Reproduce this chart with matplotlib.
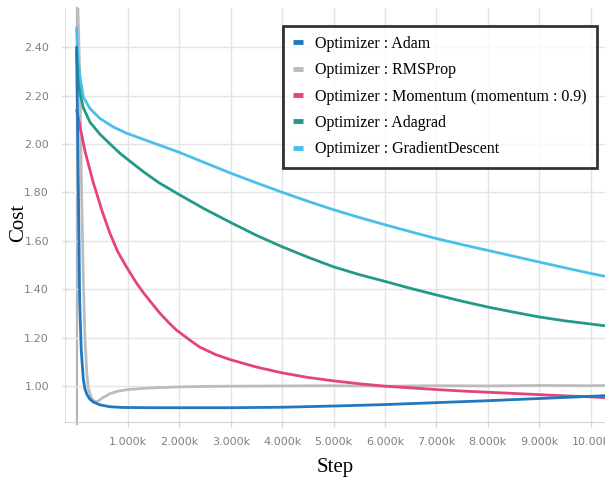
import matplotlib
matplotlib.use("Agg")
import matplotlib.pyplot as plt
from matplotlib.ticker import FixedLocator

# cost per training step for each optimizer
adam_steps = [0, 30, 60, 90, 130, 160, 200, 260, 330, 450, 650, 900, 1500, 2000, 3000, 4000,
              5000, 6000, 7000, 8000, 9000, 10000, 10300]
adam_cost = [2.40, 1.90, 1.35, 1.15, 1.03, 0.99, 0.965, 0.945, 0.933, 0.922, 0.914, 0.911, 0.910,
             0.910, 0.910, 0.912, 0.917, 0.923, 0.931, 0.939, 0.948, 0.957, 0.960]

rms_steps = [0, 60, 100, 130, 163, 200, 228, 280, 330, 400, 500, 650, 800, 1000, 1300, 1600,
             2000, 2500, 3000, 4000, 5000, 6000, 7000, 8000, 9000, 10000, 10300]
rms_cost = [2.75, 2.30, 1.77, 1.45, 1.19, 1.05, 0.99, 0.955, 0.938, 0.935, 0.950, 0.968, 0.978,
            0.985, 0.990, 0.993, 0.996, 0.998, 0.999, 1.000, 1.001, 0.999, 1.001, 1.000, 1.002,
            1.001, 1.002]

mom_steps = [0, 50, 163, 325, 500, 650, 800, 975, 1150, 1300, 1450, 1622, 1800, 1947, 2200,
             2400, 2700, 3000, 3500, 4000, 4500, 5000, 5500, 6000, 6500, 7000, 7500, 8000,
             8500, 9000, 9500, 10000, 10300]
mom_cost = [2.14, 2.09, 1.97, 1.84, 1.72, 1.63, 1.555, 1.49, 1.43, 1.385, 1.345, 1.30, 1.26,
            1.23, 1.19, 1.16, 1.13, 1.108, 1.078, 1.054, 1.035, 1.021, 1.009, 0.999, 0.992,
            0.985, 0.979, 0.974, 0.969, 0.964, 0.959, 0.955, 0.951]

ada_steps = [0, 30, 66, 130, 260, 455, 650, 850, 1000, 1300, 1600, 2000, 2500, 3000, 3500,
             4000, 4500, 5000, 5500, 6000, 6500, 7000, 7500, 8000, 8500, 9000, 9500, 10000,
             10300]
ada_cost = [2.38, 2.26, 2.21, 2.15, 2.09, 2.04, 2.00, 1.96, 1.935, 1.885, 1.84, 1.79, 1.73,
            1.675, 1.622, 1.575, 1.532, 1.492, 1.46, 1.432, 1.403, 1.376, 1.35, 1.326, 1.305,
            1.285, 1.269, 1.256, 1.248]

gd_steps = [0, 20, 66, 130, 260, 455, 714, 975, 1364, 1753, 2000, 2500, 3000, 3500, 4000,
            4500, 5000, 5500, 6000, 6500, 7000, 7500, 8000, 8500, 9000, 9500, 10000, 10300]
gd_cost = [2.48, 2.36, 2.277, 2.194, 2.146, 2.105, 2.07, 2.044, 2.014, 1.984, 1.965, 1.922,
           1.879, 1.839, 1.80, 1.763, 1.728, 1.696, 1.666, 1.637, 1.609, 1.584, 1.56, 1.536,
           1.512, 1.488, 1.465, 1.452]

labels = ["Optimizer : Adam", "Optimizer : RMSProp", "Optimizer : Momentum (momentum : 0.9)",
          "Optimizer : Adagrad", "Optimizer : GradientDescent"]
colors = ["#1f78c0", "#bcbcbc", "#e4437c", "#23998a", "#4bbfea"]

x_ticks = [1000, 2000, 3000, 4000, 5000, 6000, 7000, 8000, 9000, 10000]
x_labels = ["1.000k", "2.000k", "3.000k", "4.000k", "5.000k", "6.000k", "7.000k", "8.000k",
            "9.000k", "10.00k"]
y_ticks = [1.00, 1.20, 1.40, 1.60, 1.80, 2.00, 2.20, 2.40]

serif = ["Liberation Serif", "DejaVu Serif"]

fig = plt.figure(figsize=(6.05, 4.79), dpi=100)
ax = fig.add_axes([0.1074, 0.119, 0.8926, 0.864])

# zero line at the first step
ax.axvline(0, color="#b5b5b5", lw=1.6, zorder=1, clip_on=False, ymin=-0.006)

series = [(adam_steps, adam_cost), (rms_steps, rms_cost), (mom_steps, mom_cost),
          (ada_steps, ada_cost), (gd_steps, gd_cost)]
# gray first so the others sit on top, Adam last
order = [1, 4, 3, 2, 0]
lines = {}
for i in order:
    s, c = series[i]
    ln, = ax.plot(s, c, color=colors[i], lw=2.0, label=labels[i], zorder=3,
                  solid_capstyle="round", solid_joinstyle="round")
    lines[i] = ln

ax.set_xlim(-226, 10280)
ax.set_ylim(0.851, 2.561)
ax.xaxis.set_major_locator(FixedLocator(x_ticks))
ax.set_xticklabels(x_labels)
ax.yaxis.set_major_locator(FixedLocator(y_ticks))
ax.set_yticklabels([f"{v:.2f}" for v in y_ticks])

ax.grid(True, color="#e4e4e4", lw=1.0, zorder=0)
for side in ["top", "right"]:
    ax.spines[side].set_visible(False)
ax.spines["bottom"].set_color("#d6d6d6")
ax.spines["left"].set_color("#e0e0e0")
ax.tick_params(axis="both", colors="#d8d8d8", length=3.5, width=1.0,
               labelcolor="#808080", labelsize=8)
ax.tick_params(axis="x", pad=7)
ax.tick_params(axis="y", pad=9, direction="inout", length=5)

ax.set_xlabel("Step", family=serif, fontsize=15, labelpad=8)
ax.set_ylabel("Cost", family=serif, fontsize=15)
ax.yaxis.set_label_coords(-0.068, 0.48)

leg = ax.legend([lines[i] for i in range(5)], labels, loc="upper right",
                bbox_to_anchor=(0.985, 0.958), prop={"family": serif, "size": 11.5},
                frameon=True, fancybox=False, handlelength=0.6, handletextpad=0.75,
                labelspacing=0.65, borderpad=0.65, borderaxespad=0)
leg.get_frame().set_edgecolor("black")
leg.get_frame().set_linewidth(2.0)
for h in leg.legend_handles:
    h.set_linewidth(3.5)
    h.set_solid_capstyle("butt")

fig.savefig("out.png", dpi=100)
